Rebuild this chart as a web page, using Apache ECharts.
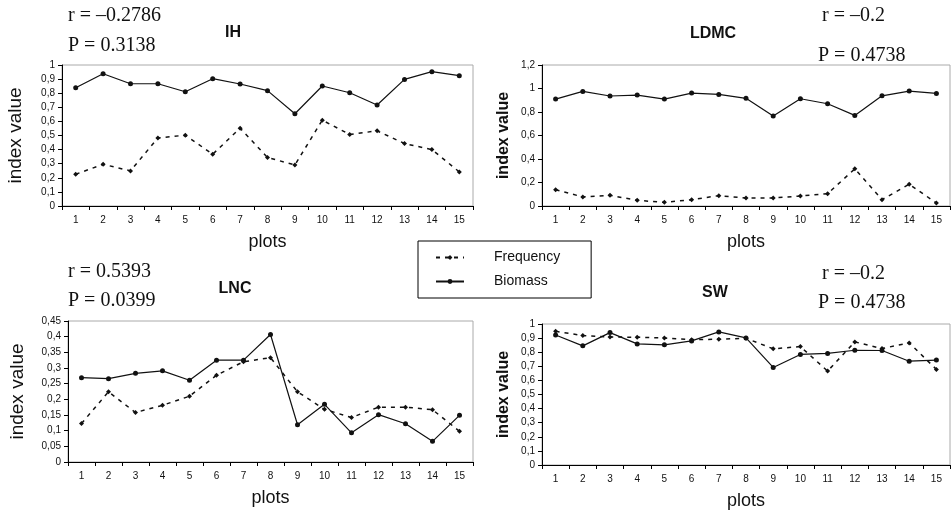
<!DOCTYPE html>
<html>
<head>
<meta charset="utf-8">
<script src="https://cdn.jsdelivr.net/npm/echarts@6/dist/echarts.min.js"></script>
<style>html,body{margin:0;padding:0;background:#fff}#c{width:951px;height:511px}</style>
</head>
<body>
<div id="c"></div>
<script>
const plots = ['1','2','3','4','5','6','7','8','9','10','11','12','13','14','15'];

const ihBiomass   = [0.839,0.938,0.867,0.867,0.810,0.903,0.865,0.818,0.654,0.851,0.803,0.716,0.898,0.953,0.924];
const ihFrequency = [0.225,0.296,0.249,0.483,0.502,0.367,0.552,0.344,0.291,0.609,0.507,0.533,0.443,0.400,0.242];

const ldmcBiomass   = [0.910,0.975,0.936,0.944,0.910,0.961,0.950,0.916,0.765,0.913,0.870,0.771,0.938,0.978,0.958];
const ldmcFrequency = [0.139,0.077,0.091,0.048,0.031,0.054,0.088,0.068,0.068,0.085,0.105,0.316,0.054,0.185,0.026];

const lncBiomass   = [0.269,0.266,0.283,0.291,0.261,0.325,0.325,0.407,0.119,0.184,0.093,0.151,0.122,0.066,0.149];
const lncFrequency = [0.123,0.224,0.158,0.181,0.210,0.277,0.320,0.333,0.224,0.168,0.142,0.175,0.175,0.167,0.098];

const swBiomass   = [0.922,0.845,0.939,0.859,0.852,0.880,0.944,0.901,0.692,0.784,0.791,0.814,0.812,0.736,0.744];
const swFrequency = [0.948,0.918,0.908,0.906,0.901,0.889,0.892,0.899,0.824,0.840,0.666,0.873,0.826,0.866,0.678];

const panelTitles = ['IH','LDMC','LNC','SW'];
const rTexts = ['r = \u20130.2786','r = \u20130.2','r = 0.5393','r = \u20130.2'];
const pTexts = ['P = 0.3138','P = 0.4738','P = 0.0399','P = 0.4738'];
const yMax = [1, 1.2, 0.45, 1];
const yStep = [0.1, 0.2, 0.05, 0.1];

const panels = [
  {bio: ihBiomass, freq: ihFrequency},
  {bio: ldmcBiomass, freq: ldmcFrequency},
  {bio: lncBiomass, freq: lncFrequency},
  {bio: swBiomass, freq: swFrequency}
];

const grids = [
  {left: 62, top: 65, width: 411, height: 141},
  {left: 542, top: 65, width: 408, height: 141},
  {left: 68, top: 321, width: 405, height: 141},
  {left: 542, top: 324, width: 408, height: 142}
];
const boldName = [false, true, false, true];
const nameGapY = [37, 30, 41, 30];

const fmt = v => String(+v.toFixed(2)).replace('.', ',');

const option = {
  animation: false,
  backgroundColor: '#fff',
  grid: grids.map(g => Object.assign({show: true, borderColor: '#aaa', borderWidth: 1, backgroundColor: 'transparent'}, g)),
  legend: {
    data: ['Frequency', 'Biomass'],
    orient: 'vertical',
    left: 418, top: 241,
    padding: [8, 31, 8, 17],
    itemWidth: 28, itemHeight: 6, itemGap: 7,
    borderColor: '#000', borderWidth: 1,
    selectedMode: false,
    textStyle: {fontFamily: 'Liberation Sans, Arial', fontSize: 14, lineHeight: 17, color: '#111', padding: [0, 0, 0, 25]}
  },
  xAxis: grids.map((g, i) => ({
    type: 'category', gridIndex: i, data: plots, boundaryGap: true,
    name: 'plots', nameLocation: 'middle', nameGap: 27,
    nameTextStyle: {fontFamily: 'Liberation Sans, Arial', fontSize: 18, color: '#111'},
    axisLine: {lineStyle: {color: '#000', width: 1}},
    axisTick: {show: true, length: 4, lineStyle: {color: '#000'}},
    axisLabel: {fontFamily: 'Liberation Sans, Arial', fontSize: 10, color: '#111', margin: 9, interval: 0},
    splitLine: {show: false}
  })),
  yAxis: grids.map((g, i) => ({
    type: 'value', gridIndex: i, min: 0, max: yMax[i], interval: yStep[i],
    name: 'index value', nameLocation: 'middle', nameGap: nameGapY[i],
    nameTextStyle: {fontFamily: 'Liberation Sans, Arial', fontSize: boldName[i] ? 16 : 19, fontWeight: boldName[i] ? 'bold' : 'normal', color: '#111'},
    axisLine: {show: true, lineStyle: {color: '#000', width: 1}},
    axisTick: {show: true, length: 4, lineStyle: {color: '#000'}},
    axisLabel: {fontFamily: 'Liberation Sans, Arial', fontSize: 10, color: '#111', margin: 7, formatter: fmt},
    splitLine: {show: false}
  })),
  series: [],
  graphic: []
};

panels.forEach((p, i) => {
  option.series.push({
    name: 'Frequency', type: 'line', xAxisIndex: i, yAxisIndex: i, data: p.freq,
    symbol: 'diamond', symbolSize: 5, showSymbol: true,
    lineStyle: {color: '#111', width: 1.5, type: [4, 5]},
    itemStyle: {color: '#111'}
  });
  option.series.push({
    name: 'Biomass', type: 'line', xAxisIndex: i, yAxisIndex: i, data: p.bio,
    symbol: 'circle', symbolSize: 5, showSymbol: true,
    lineStyle: {color: '#111', width: 1.2, type: 'solid'},
    itemStyle: {color: '#111'}
  });
});

const titlePos = [[233, 33], [713, 34], [235, 289], [715, 293]];
const rPos = [[68, 16], [822, 16], [68, 272], [822, 274]];
const pPos = [[68, 46], [818, 56], [68, 301], [818, 303]];
const serif = 'Liberation Serif, Times New Roman, serif';
for (let i = 0; i < 4; i++) {
  option.graphic.push({type: 'text', x: titlePos[i][0], y: titlePos[i][1],
    style: {text: panelTitles[i], font: 'bold 16px Liberation Sans, Arial', fill: '#111', textAlign: 'center', textVerticalAlign: 'middle'}});
  option.graphic.push({type: 'text', x: rPos[i][0], y: rPos[i][1],
    style: {text: rTexts[i], font: '20px ' + serif, fill: '#111', textAlign: 'left', textVerticalAlign: 'middle'}});
  option.graphic.push({type: 'text', x: pPos[i][0], y: pPos[i][1],
    style: {text: pTexts[i], font: '20px ' + serif, fill: '#111', textAlign: 'left', textVerticalAlign: 'middle'}});
}

const chart = echarts.init(document.getElementById('c'), null, {renderer: 'canvas'});
chart.setOption(option);
</script>
</body>
</html>
